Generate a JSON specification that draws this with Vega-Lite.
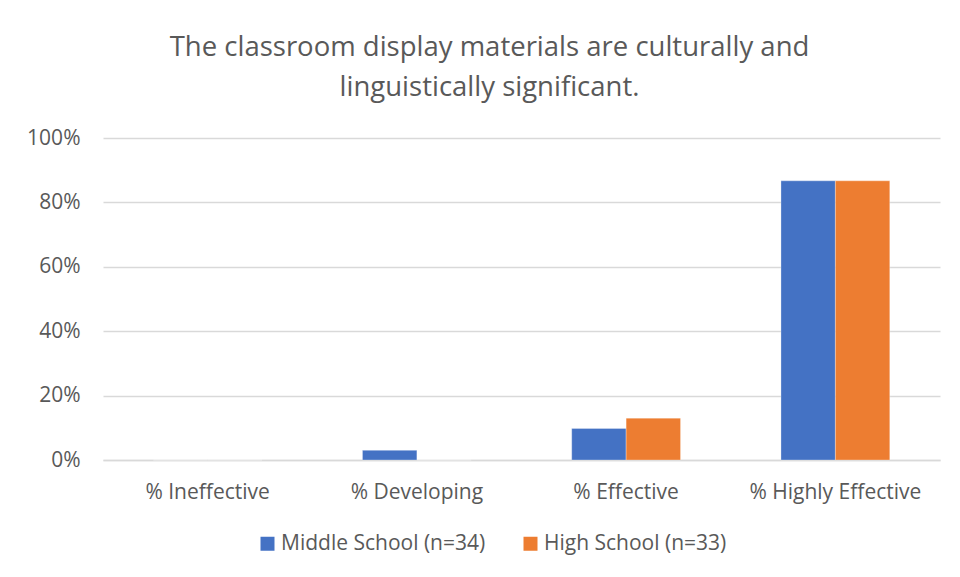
{
  "$schema": "https://vega.github.io/schema/vega-lite/v6.json",
  "width": 837,
  "height": 322,
  "autosize": {"type": "none"},
  "padding": {"left": 103, "top": 138, "right": 20, "bottom": 117},
  "background": "white",
  "title": {
    "text": ["The classroom display materials are culturally and", "linguistically significant."],
    "font": "Open Sans",
    "fontSize": 27.5,
    "fontWeight": "normal",
    "color": "#595959",
    "anchor": "middle",
    "dx": -32,
    "offset": 26,
    "lineHeight": 40
  },
  "data": {
    "values": [
      {"category": "% Ineffective", "school": "Middle School (n=34)", "value": 0},
      {"category": "% Ineffective", "school": "High School (n=33)", "value": 0},
      {"category": "% Developing", "school": "Middle School (n=34)", "value": 0.03},
      {"category": "% Developing", "school": "High School (n=33)", "value": 0},
      {"category": "% Effective", "school": "Middle School (n=34)", "value": 0.098},
      {"category": "% Effective", "school": "High School (n=33)", "value": 0.13},
      {"category": "% Highly Effective", "school": "Middle School (n=34)", "value": 0.867},
      {"category": "% Highly Effective", "school": "High School (n=33)", "value": 0.867}
    ]
  },
  "mark": {"type": "bar", "stroke": "white", "strokeWidth": 0.5, "strokeOpacity": 0.6},
  "encoding": {
    "x": {
      "field": "category",
      "type": "nominal",
      "sort": ["% Ineffective", "% Developing", "% Effective", "% Highly Effective"],
      "scale": {"paddingInner": 0.48, "paddingOuter": 0.24},
      "axis": {
        "title": null,
        "labelAngle": 0,
        "labelFont": "Open Sans",
        "labelFontSize": 21,
        "labelColor": "#595959",
        "ticks": false,
        "domainColor": "#d9d9d9",
        "domainWidth": 1.5,
        "labelPadding": 21
      }
    },
    "xOffset": {
      "field": "school",
      "type": "nominal",
      "sort": ["Middle School (n=34)", "High School (n=33)"]
    },
    "y": {
      "field": "value",
      "type": "quantitative",
      "scale": {"domain": [0, 1]},
      "axis": {
        "title": null,
        "format": ".0%",
        "values": [0, 0.2, 0.4, 0.6, 0.8, 1],
        "labelFont": "Open Sans",
        "labelFontSize": 21,
        "labelColor": "#595959",
        "ticks": false,
        "domain": false,
        "gridColor": "#d9d9d9",
        "gridWidth": 1.5,
        "labelPadding": 23
      }
    },
    "color": {
      "field": "school",
      "type": "nominal",
      "sort": ["Middle School (n=34)", "High School (n=33)"],
      "scale": {"range": ["#4472C4", "#ED7D31"]},
      "legend": {
        "title": null,
        "orient": "none",
        "direction": "horizontal",
        "legendX": 154,
        "legendY": 395,
        "symbolType": "square",
        "symbolSize": 196,
        "symbolStrokeWidth": 0,
        "labelFont": "Open Sans",
        "labelFontSize": 21,
        "labelColor": "#595959",
        "labelLimit": 400,
        "columnPadding": 34,
        "labelOffset": 3
      }
    }
  },
  "config": {"view": {"stroke": null}}
}
